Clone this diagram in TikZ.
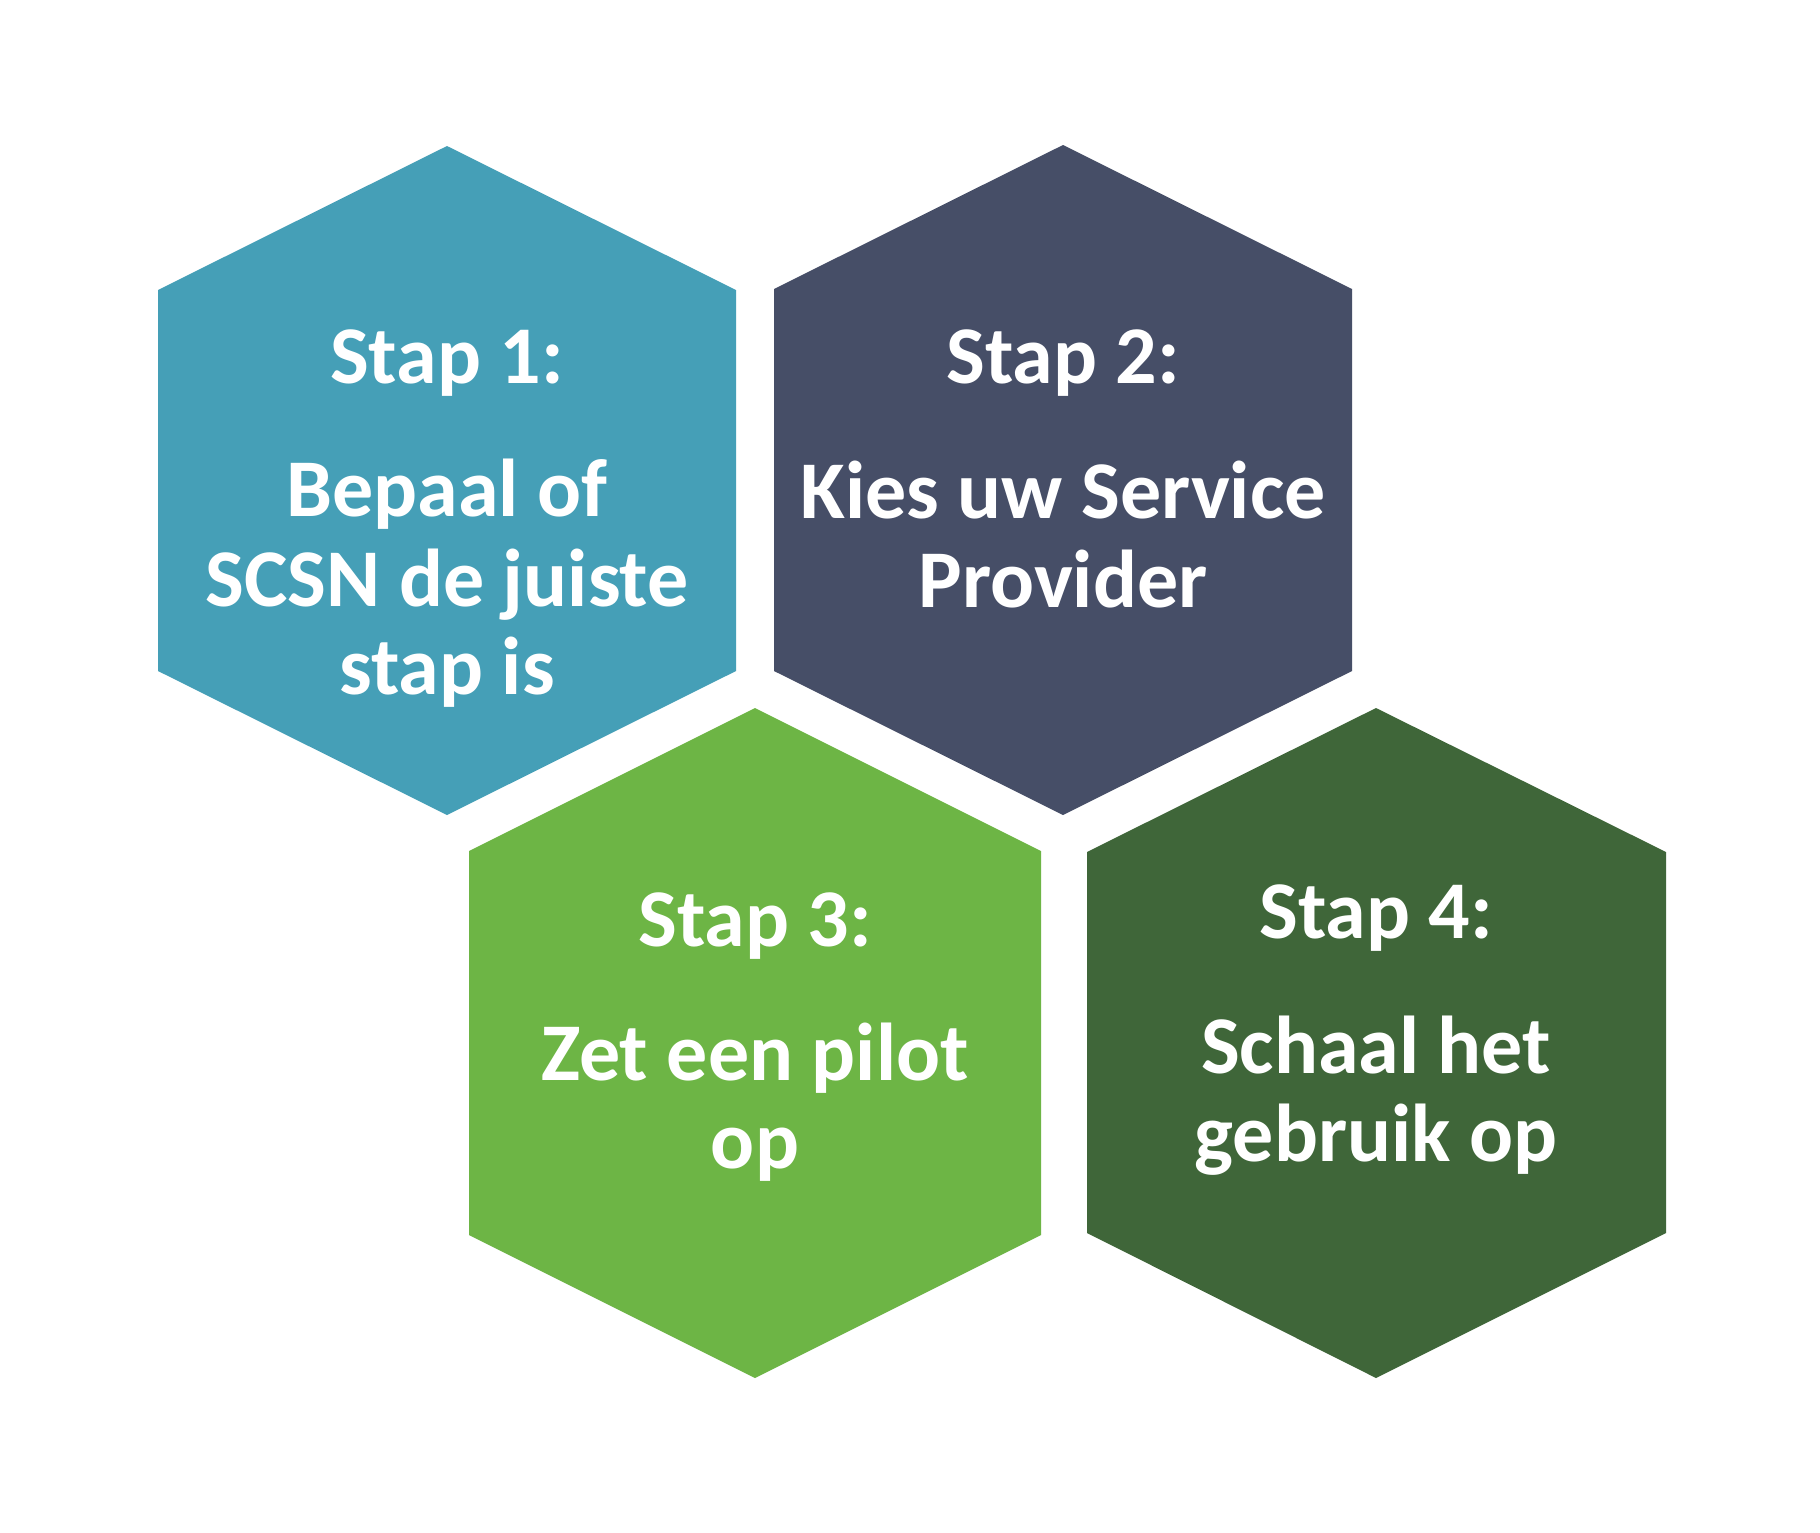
\documentclass[tikz,border=0pt]{standalone}
\usepackage{fontspec}
\setmainfont{Carlito}
\definecolor{hexteal}{HTML}{459FB7}
\definecolor{hexslate}{HTML}{464E67}
\definecolor{hexgreen}{HTML}{6DB545}
\definecolor{hexdark}{HTML}{3F6639}
\tikzset{
  hexfill/.style={fill=#1, draw=none},
  txt/.style={text=white, font=\fontsize{82}{89}\selectfont\bfseries, anchor=base, inner sep=0pt}
}
\begin{document}
\begin{tikzpicture}[x=1pt,y=-1pt]
\useasboundingbox[fill=white] (0,0) rectangle (1820,1532);
% hexagon 1
\fill[hexfill=hexteal] (447,146) -- (736,290) -- (736,671) -- (447,815) -- (158,671) -- (158,290) -- cycle;
% hexagon 2
\fill[hexfill=hexslate] (1063,145) -- (1352,289) -- (1352,671) -- (1063,815) -- (774,671) -- (774,289) -- cycle;
% hexagon 3
\fill[hexfill=hexgreen] (755,708) -- (1041,851) -- (1041,1235) -- (755,1378) -- (469,1235) -- (469,851) -- cycle;
% hexagon 4
\fill[hexfill=hexdark] (1376,708) -- (1666,852) -- (1666,1233) -- (1376,1378) -- (1087,1233) -- (1087,852) -- cycle;

\node[txt] (s1) at (447,383) {Stap 1:};
\node[txt] (s1a) at (447,516) {Bepaal of};
\node[txt] (s1b) at (447,606) {SCSN de juiste};
\node[txt] (s1c) at (447,694) {stap is};

\node[txt] (s2) at (1063,383) {Stap 2:};
\node[txt] (s2a) at (1063,518) {Kies uw Service};
\node[txt] (s2b) at (1063,607) {Provider};

\node[txt] (s3) at (755,946) {Stap 3:};
\node[txt] (s3a) at (755,1080) {Zet een pilot};
\node[txt] (s3b) at (755,1168) {op};

\node[txt] (s4) at (1376,938) {Stap 4:};
\node[txt] (s4a) at (1376,1073) {Schaal het};
\node[txt] (s4b) at (1376,1161) {gebruik op};
\end{tikzpicture}
\end{document}
